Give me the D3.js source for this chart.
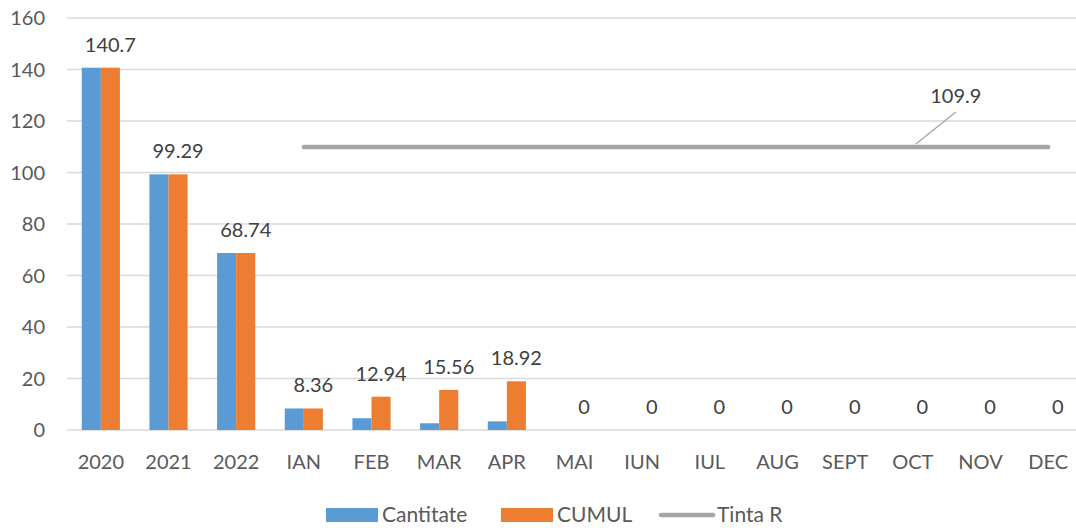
<!DOCTYPE html>
<html>
<head>
<meta charset="utf-8">
<script src="https://cdn.jsdelivr.net/npm/d3@7"></script>
<style>
  html, body { margin: 0; padding: 0; background: #fff; overflow: hidden; }
  svg { display: block; font-family: Lato, "Open Sans", sans-serif; }
</style>
</head>
<body>
<svg id="chart" width="1076" height="528"></svg>
<script>
// Monthly chart: Cantitate vs CUMUL bars with Tinta R target line
const categories = ["2020", "2021", "2022", "IAN", "FEB", "MAR", "APR", "MAI", "IUN", "IUL", "AUG", "SEPT", "OCT", "NOV", "DEC"];
const cantitate = [140.7, 99.29, 68.74, 8.36, 4.58, 2.62, 3.36, 0, 0, 0, 0, 0, 0, 0, 0];
const cumul = [140.7, 99.29, 68.74, 8.36, 12.94, 15.56, 18.92, 0, 0, 0, 0, 0, 0, 0, 0];
const tintaCats = ["IAN", "FEB", "MAR", "APR", "MAI", "IUN", "IUL", "AUG", "SEPT", "OCT", "NOV", "DEC"];
const tintaR = 109.9;
const tintaLabelAt = "OCT";
const yTicks = [0, 20, 40, 60, 80, 100, 120, 140, 160];

const svg = d3.select("#chart");
const width = 1076;
const plotLeft = 67, plotRight = 1082, plotTop = 18, plotBottom = 430;

const x = d3.scaleBand().domain(categories).range([plotLeft, plotRight]);
const bw = x.bandwidth() * 0.282;
const y = d3.scaleLinear().domain([0, 160]).range([plotBottom, plotTop]);

// grid
svg.append("g").selectAll("line").data(yTicks).join("line")
  .attr("x1", plotLeft).attr("x2", width)
  .attr("y1", d => y(d)).attr("y2", d => y(d))
  .attr("stroke", "#d9d9d9").attr("stroke-width", 1.3);

// y labels
svg.append("g").selectAll("text").data(yTicks).join("text")
  .attr("x", 45).attr("y", d => y(d) + 7).attr("text-anchor", "end")
  .attr("fill", "#595959").attr("font-size", 20).text(d => d);

// bars
const cx = c => x(c) + x.bandwidth() / 2;
svg.append("g").selectAll("rect").data(categories).join("rect")
  .attr("x", c => cx(c) - bw).attr("width", bw)
  .attr("y", (c, i) => y(cantitate[i])).attr("height", (c, i) => y(0) - y(cantitate[i]))
  .attr("fill", "#5b9bd5");
svg.append("g").selectAll("rect").data(categories).join("rect")
  .attr("x", c => cx(c)).attr("width", bw)
  .attr("y", (c, i) => y(cumul[i])).attr("height", (c, i) => y(0) - y(cumul[i]))
  .attr("fill", "#ed7d31");

// value labels (CUMUL)
svg.append("g").selectAll("text").data(categories).join("text")
  .attr("x", c => cx(c) + bw / 2).attr("y", (c, i) => y(cumul[i]) - 16)
  .attr("text-anchor", "middle").attr("fill", "#404040").attr("font-size", 20)
  .text((c, i) => cumul[i]);

// Tinta R line
const line = d3.line().x(c => cx(c)).y(() => y(tintaR));
svg.append("path").datum(tintaCats).attr("d", line)
  .attr("fill", "none").attr("stroke", "#a5a5a5").attr("stroke-width", 4.5).attr("stroke-linecap", "round");
// label with leader
const lx = cx(tintaLabelAt);
svg.append("line").attr("x1", lx + 3).attr("y1", y(tintaR) - 3)
  .attr("x2", lx + 43).attr("y2", y(tintaR) - 35)
  .attr("stroke", "#a5a5a5").attr("stroke-width", 1.3);
svg.append("text").attr("x", lx + 43).attr("y", y(tintaR) - 44)
  .attr("text-anchor", "middle").attr("fill", "#404040").attr("font-size", 20).text(tintaR);

// x labels
svg.append("g").selectAll("text").data(categories).join("text")
  .attr("x", c => cx(c)).attr("y", 469).attr("text-anchor", "middle")
  .attr("fill", "#595959").attr("font-size", 20).text(c => c);

// legend
const lg = svg.append("g").attr("font-size", 21).attr("fill", "#595959");
lg.append("rect").attr("x", 326).attr("y", 508).attr("width", 52).attr("height", 14).attr("fill", "#5b9bd5");
lg.append("text").attr("x", 382).attr("y", 522).text("Cantitate");
lg.append("rect").attr("x", 501).attr("y", 508).attr("width", 52).attr("height", 14).attr("fill", "#ed7d31");
lg.append("text").attr("x", 557).attr("y", 522).text("CUMUL");
lg.append("line").attr("x1", 661).attr("x2", 713).attr("y1", 515).attr("y2", 515)
  .attr("stroke", "#a5a5a5").attr("stroke-width", 4.5).attr("stroke-linecap", "round");
lg.append("text").attr("x", 717).attr("y", 522).text("Tinta R");
</script>
</body>
</html>
